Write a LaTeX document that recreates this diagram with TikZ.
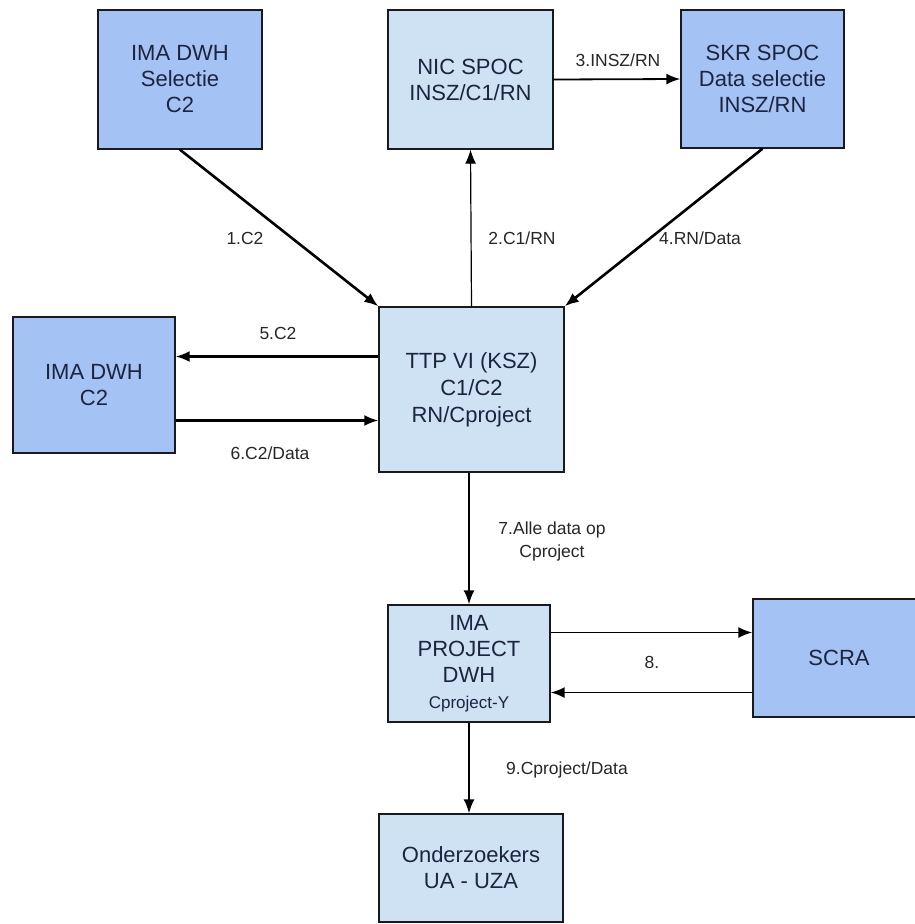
\documentclass[tikz,border=0pt]{standalone}
\usepackage{fontspec}
\setmainfont{Liberation Sans}
\usepackage{xcolor}
\definecolor{boxdark}{RGB}{164,194,244}
\definecolor{boxlight}{RGB}{207,226,243}
\definecolor{boxtext}{RGB}{28,36,64}
\definecolor{edgeline}{RGB}{25,25,30}
\usepackage{tikz}
\usetikzlibrary{arrows.meta}
\tikzset{
    common/.style={draw=edgeline, line width=1.4pt, rectangle, align=center, text=boxtext, inner sep=0pt,
        font=\fontsize{22}{26}\selectfont},
    dwh/.style={common, fill=boxdark},
    spoc/.style={common, fill=boxlight},
    flow/.style={->, line width=1.8pt, draw=black},
    heavy/.style={flow, line width=2.6pt},
    lightflow/.style={flow, line width=1.2pt},
    msg/.style={text=black!85, align=center, inner sep=0pt, font=\fontsize{17.5}{23}\selectfont},
    >={Latex[length=14pt, width=11pt]}
}

\begin{document}
\begin{tikzpicture}[x=1pt, y=-1pt]
      \useasboundingbox (0,0) rectangle (914,924);

      \path
          (180,79.5) node[dwh, minimum width=164pt, minimum height=139pt] (ima-sel) {IMA DWH\\Selectie\\C2}
          (470.5,79.5) node[spoc, minimum width=165pt, minimum height=139pt] (nic-spoc) {NIC SPOC\\INSZ/C1/RN}
          (762.5,79) node[dwh, minimum width=163pt, minimum height=138pt] (skr-spoc) {SKR SPOC\\Data selectie\\INSZ/RN}
          (94,385) node[dwh, minimum width=162pt, minimum height=136pt] (ima-c2) {IMA DWH\\C2}
          (471.5,389.5) node[spoc, minimum width=185pt, minimum height=165pt, font=\fontsize{22}{27}\selectfont] (ttp) {TTP VI (KSZ)\\C1/C2\\RN/Cproject}
          (469,663.5) node[spoc, minimum width=162pt, minimum height=117pt] (project) {IMA\\PROJECT\\DWH\\{\fontsize{17}{20}\selectfont Cproject-Y}}
          (839,658) node[dwh, minimum width=172pt, minimum height=118pt] (scra) {SCRA}
          (471,868) node[spoc, minimum width=184pt, minimum height=108pt] (onderzoekers) {Onderzoekers\\UA - UZA};

      \path
          (618,60) node[msg] (lbl-3) {3.INSZ/RN}
          (245,238) node[msg] (lbl-1) {1.C2}
          (522,238) node[msg] (lbl-2) {2.C1/RN}
          (700,238) node[msg] (lbl-4) {4.RN/Data}
          (278,333) node[msg] (lbl-5) {5.C2}
          (270,453) node[msg] (lbl-6) {6.C2/Data}
          (552,541) node[msg] (lbl-7) {7.Alle data op\\Cproject}
          (652,662) node[msg] (lbl-8) {8.}
          (567,770) node[msg] (lbl-9) {9.Cproject/Data};

      \draw[heavy] (ima-sel.south) -- (ttp.north west);
      \draw[lightflow] (ttp.north) -- (nic-spoc.south);
      \draw[flow] (nic-spoc.east) -- (skr-spoc.west);
      \draw[heavy] (skr-spoc.south) -- (ttp.north east);

      \draw[heavy, line width=2.2pt] ([yshift=33pt]ttp.west) -- ([yshift=33pt]ttp.west -| ima-c2.east);
      \draw[heavy, line width=2.2pt] ([yshift=-31pt]ttp.west -| ima-c2.east) -- ([yshift=-31pt]ttp.west);

      \draw[flow] (project.north |- ttp.south) -- (project.north);
      \draw[flow] ([yshift=31pt]project.east) -- ([yshift=31pt]project.east -| scra.west);
      \draw[flow] ([yshift=-29pt]project.east -| scra.west) -- ([yshift=-29pt]project.east);
      \draw[flow] (project.south) -- (project.south |- onderzoekers.north);
\end{tikzpicture}
\end{document}
